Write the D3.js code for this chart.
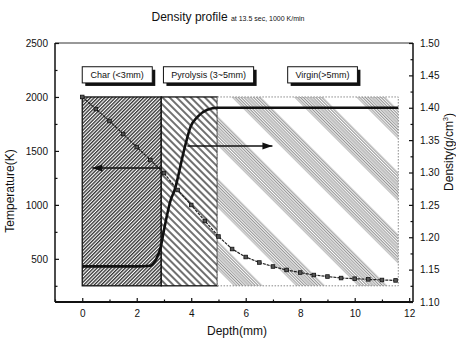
<!DOCTYPE html>
<html>
<head>
<meta charset="utf-8">
<script src="https://cdn.jsdelivr.net/npm/d3@7"></script>
<style>
  body { margin: 0; background: #fff; }
  text { font-family: "Liberation Sans", Arial, sans-serif; fill: #111; }
</style>
</head>
<body>
<div id="chart"></div>
<script>
// Temperature profile (left axis), markers every 0.5 mm
var depthT = [0, 0.5, 1, 1.5, 2, 2.5, 3, 3.5, 4, 4.5, 5, 5.5, 6, 6.5, 7, 7.5, 8, 8.5, 9, 9.5, 10, 10.5, 11, 11.5];
var temps  = [2000, 1888, 1777, 1657, 1536, 1416, 1295, 1138, 999, 851, 707, 591, 517, 466, 429, 397, 373, 350, 336, 322, 316, 310, 304, 300];

// Density profile (right axis)
var depthD = [0, 1, 2, 2.5, 2.7, 2.88, 3.0, 3.25, 3.39, 3.74, 3.98, 4.23, 4.59, 4.96, 6, 8, 10, 11.6];
var dens   = [1.155, 1.155, 1.155, 1.156, 1.165, 1.185, 1.211, 1.258, 1.273, 1.335, 1.371, 1.386, 1.397, 1.40, 1.40, 1.40, 1.40, 1.40];

// Zones (depth in mm)
var zoneNames = ["Char (<3mm)", "Pyrolysis (3~5mm)", "Virgin(>5mm)"];
var zoneStart = [0, 2.9, 4.96];
var zoneEnd   = [2.9, 4.96, 11.6];
var zoneBoxX0 = [0, 2.98, 7.54];
var zoneBoxX1 = [2.57, 6.29, 10.1];

var xTicks = [0, 2, 4, 6, 8, 10, 12];
var tTicks = [500, 1000, 1500, 2000, 2500];
var dTicks = [1.10, 1.15, 1.20, 1.25, 1.30, 1.35, 1.40, 1.45, 1.50];

var W = 456, H = 339;
var mLeft = 55, mRight = 413, mTop = 43, mBottom = 302;

var svg = d3.select("#chart").append("svg").attr("width", W).attr("height", H);

var x = d3.scaleLinear().domain([-1, 12.14]).range([mLeft, mRight]);
var yT = d3.scaleLinear().domain([100, 2500]).range([mBottom, mTop]);
var yD = d3.scaleLinear().domain([1.10, 1.50]).range([mBottom, mTop]);

// hatch patterns
var defs = svg.append("defs");
var pc = defs.append("pattern").attr("id", "charHatch").attr("patternUnits", "userSpaceOnUse")
  .attr("width", 2.5).attr("height", 2.5).attr("patternTransform", "rotate(45)");
pc.append("rect").attr("width", 2.5).attr("height", 2.5).attr("fill", "#fff");
pc.append("line").attr("x1", 0.7).attr("y1", 0).attr("x2", 0.7).attr("y2", 2.5)
  .attr("stroke", "#1a1a1a").attr("stroke-width", 1.2);

var pp = defs.append("pattern").attr("id", "pyroHatch").attr("patternUnits", "userSpaceOnUse")
  .attr("width", 5).attr("height", 5).attr("patternTransform", "rotate(-45)");
pp.append("rect").attr("width", 5).attr("height", 5).attr("fill", "#fff");
pp.append("line").attr("x1", 1).attr("y1", 0).attr("x2", 1).attr("y2", 5)
  .attr("stroke", "#111").attr("stroke-width", 1.2);

var pv = defs.append("pattern").attr("id", "virginHatch").attr("patternUnits", "userSpaceOnUse")
  .attr("width", 44).attr("height", 4).attr("patternTransform", "translate(10,0) rotate(-45)");
pv.append("rect").attr("width", 44).attr("height", 4).attr("fill", "#fff");
d3.range(0, 20, 2.2).forEach(function (o) {
  pv.append("line").attr("x1", o).attr("y1", 0).attr("x2", o).attr("y2", 4)
    .attr("stroke", "#666").attr("stroke-width", 0.8);
});

var fills = ["url(#charHatch)", "url(#pyroHatch)", "url(#virginHatch)"];

// zone rectangles (temperature 250..2000)
zoneNames.forEach(function (n, i) {
  svg.append("rect")
    .attr("x", x(zoneStart[i])).attr("y", yT(2000))
    .attr("width", x(zoneEnd[i]) - x(zoneStart[i]))
    .attr("height", yT(250) - yT(2000))
    .attr("fill", fills[i])
    .attr("stroke", i < 2 ? "#111" : "#888")
    .attr("stroke-width", i < 2 ? 1.3 : 1)
    .attr("stroke-dasharray", i < 2 ? null : "1.5,1.5");
});

// frame
svg.append("line").attr("x1", mLeft).attr("x2", mRight).attr("y1", mTop).attr("y2", mTop)
  .attr("stroke", "#333").attr("stroke-width", 1);
svg.append("line").attr("x1", mLeft).attr("x2", mRight).attr("y1", mBottom).attr("y2", mBottom)
  .attr("stroke", "#111").attr("stroke-width", 1.8);
svg.append("line").attr("x1", mLeft).attr("x2", mLeft).attr("y1", mTop).attr("y2", mBottom)
  .attr("stroke", "#111").attr("stroke-width", 1.5);
svg.append("line").attr("x1", mRight).attr("x2", mRight).attr("y1", mTop).attr("y2", mBottom)
  .attr("stroke", "#111").attr("stroke-width", 1.5);

// axes with inward ticks
svg.append("g").attr("transform", "translate(0," + mBottom + ")")
  .call(d3.axisBottom(x).tickValues(xTicks).tickSize(-4).tickPadding(8).tickFormat(d3.format("d")));
svg.append("g").attr("transform", "translate(0," + mBottom + ")")
  .call(d3.axisBottom(x).tickValues(d3.range(-1, 12.1, 2)).tickSize(-2.5).tickFormat(""));
svg.append("g").attr("transform", "translate(" + mLeft + ",0)")
  .call(d3.axisLeft(yT).tickValues(tTicks).tickSize(-4).tickPadding(7).tickFormat(d3.format("d")));
svg.append("g").attr("transform", "translate(" + mLeft + ",0)")
  .call(d3.axisLeft(yT).tickValues([250, 750, 1250, 1750, 2250]).tickSize(-2.5).tickFormat(""));
svg.append("g").attr("transform", "translate(" + mRight + ",0)")
  .call(d3.axisRight(yD).tickValues(dTicks).tickSize(-4).tickPadding(7).tickFormat(d3.format(".2f")));
svg.append("g").attr("transform", "translate(" + mRight + ",0)")
  .call(d3.axisRight(yD).tickValues(d3.range(1.125, 1.5, 0.05)).tickSize(-2.5).tickFormat(""));

svg.selectAll(".domain").remove();
svg.selectAll(".tick line").attr("stroke", "#111").attr("stroke-width", 1.2);
svg.selectAll(".tick text").attr("font-size", 10).attr("font-family", "Liberation Sans, Arial, sans-serif").attr("fill", "#111");

// density curve
var lineD = d3.line().x(function (d, i) { return x(depthD[i]); }).y(function (d) { return yD(d); })
  .curve(d3.curveMonotoneX);
svg.append("path").datum(dens).attr("d", lineD).attr("fill", "none")
  .attr("stroke", "#111").attr("stroke-width", 2.6);

// temperature curve
var lineT = d3.line().x(function (d, i) { return x(depthT[i]); }).y(function (d) { return yT(d); });
svg.append("path").datum(temps).attr("d", lineT).attr("fill", "none")
  .attr("stroke", "#222").attr("stroke-width", 1.2).attr("stroke-dasharray", "3,1");
svg.selectAll(".mk").data(temps).enter().append("rect")
  .attr("x", function (d, i) { return x(depthT[i]) - 1.8; })
  .attr("y", function (d) { return yT(d) - 1.8; })
  .attr("width", 3.6).attr("height", 3.6)
  .attr("fill", "#555").attr("stroke", "#111").attr("stroke-width", 0.8);

// axis-pointer arrows
function arrow(x1, x2, yy) {
  svg.append("line").attr("x1", x1).attr("x2", x2).attr("y1", yy).attr("y2", yy)
    .attr("stroke", "#111").attr("stroke-width", 1.6);
  var dir = x2 < x1 ? 1 : -1;
  svg.append("path")
    .attr("d", "M" + x2 + "," + yy + "L" + (x2 + dir * 10) + "," + (yy - 3.5) +
      "L" + (x2 + dir * 10) + "," + (yy + 3.5) + "Z")
    .attr("fill", "#111");
}
arrow(x(2.88), x(0.37), yT(1342));
arrow(x(3.86), x(6.98), yD(1.341));

// zone labels with drop shadow
zoneNames.forEach(function (n, i) {
  var bx = x(zoneBoxX0[i]), bw = x(zoneBoxX1[i]) - bx, by = yT(2280), bh = yT(2130) - yT(2280);
  svg.append("rect").attr("x", bx + 3).attr("y", by + 3).attr("width", bw).attr("height", bh).attr("fill", "#111");
  svg.append("rect").attr("x", bx).attr("y", by).attr("width", bw).attr("height", bh)
    .attr("fill", "#fff").attr("stroke", "#111").attr("stroke-width", 1);
  svg.append("text").attr("x", bx + bw / 2).attr("y", by + bh / 2 + 3.3)
    .attr("text-anchor", "middle").attr("font-size", 9).text(n);
});

// titles
var title = svg.append("text").attr("x", 228).attr("y", 21).attr("text-anchor", "middle");
title.append("tspan").attr("font-size", 12).text("Density profile ");
title.append("tspan").attr("font-size", 7).text("at 13.5 sec, 1000 K/min");

svg.append("text").attr("x", 237).attr("y", 335).attr("text-anchor", "middle")
  .attr("font-size", 12).text("Depth(mm)");
svg.append("text").attr("transform", "translate(14,191) rotate(-90)")
  .attr("text-anchor", "middle").attr("font-size", 12).text("Temperature(K)");
var rl = svg.append("text").attr("transform", "translate(453,152) rotate(-90)")
  .attr("text-anchor", "middle").attr("font-size", 12);
rl.append("tspan").text("Density(g/cm");
rl.append("tspan").attr("font-size", 7).attr("dy", -5).text("3");
rl.append("tspan").attr("dy", 5).text(")");
</script>
</body>
</html>
